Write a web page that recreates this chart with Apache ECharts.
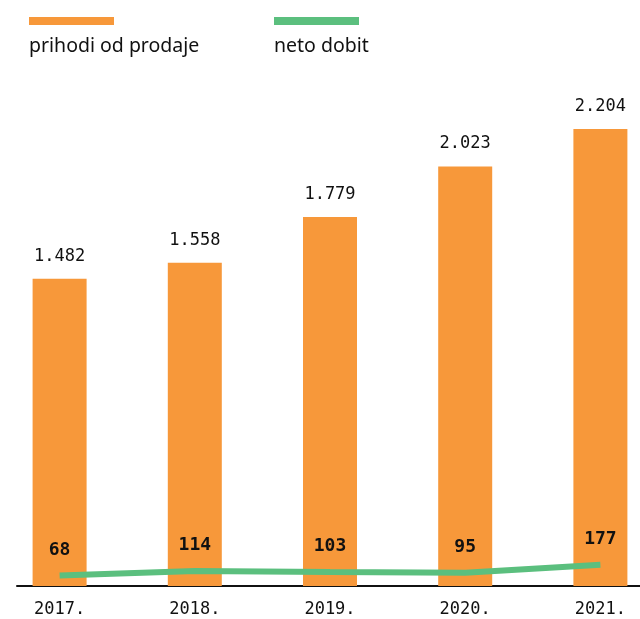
<!DOCTYPE html>
<html>
<head>
<meta charset="utf-8">
<script src="https://cdn.jsdelivr.net/npm/echarts@6/dist/echarts.min.js"></script>
<style>
  html, body { margin: 0; padding: 0; background: #fff; }
  #myChart { width: 640px; height: 619px; }
</style>
</head>
<body>
<div id="myChart"></div>
<script>
// data
const years = ['2017.', '2018.', '2019.', '2020.', '2021.']
const prihodi = [1482, 1558, 1779, 2023, 2204]
const netoDobit = [68, 114, 103, 95, 177]
const legendNames = ['prihodi od prodaje', 'neto dobit']

const orange = '#f7983a'
const green = '#5bbf7e'
const numFont = 'DejaVu Sans Mono'

// 1.482 style
function fmt(v) {
  return v >= 1000 ? Math.floor(v / 1000) + '.' + String(v % 1000).padStart(3, '0') : String(v)
}

let option = {
  animation: false,
  backgroundColor: '#fff',
  grid: [
    { left: -8, width: 676, top: 67.5, bottom: 33, outerBoundsMode: 'none' },
    // only for the baseline
    { left: 17, right: 0, top: 67.5, bottom: 33, outerBoundsMode: 'none' }
  ],
  xAxis: [{
    type: 'category',
    gridIndex: 0,
    data: years,
    axisLine: { show: false },
    axisTick: { show: false },
    axisLabel: {
      margin: 15,
      color: '#111',
      fontFamily: numFont,
      fontSize: 17
    }
  }, {
    type: 'value',
    gridIndex: 1,
    min: 0,
    max: 1,
    splitLine: { show: false },
    axisTick: { show: false },
    axisLabel: { show: false },
    axisLine: { lineStyle: { color: '#111', width: 2 } }
  }],
  yAxis: [{
    type: 'value',
    gridIndex: 0,
    min: 0,
    max: 2500,
    show: false
  }, {
    type: 'value',
    gridIndex: 0,
    min: -40,
    max: 5250,
    show: false
  }, {
    type: 'value',
    gridIndex: 1,
    show: false
  }],
  graphic: [
    { type: 'rect', left: 29, top: 17, shape: { width: 85, height: 8 }, style: { fill: orange } },
    { type: 'text', left: 29, top: 36, style: { text: legendNames[0], font: '19.5px "Noto Sans"', fill: '#111' } },
    { type: 'rect', left: 274, top: 17, shape: { width: 85, height: 8 }, style: { fill: green } },
    { type: 'text', left: 274, top: 36, style: { text: legendNames[1], font: '19.5px "Noto Sans"', fill: '#111' } }
  ],
  series: [
    {
      name: legendNames[0],
      type: 'bar',
      xAxisIndex: 0,
      yAxisIndex: 0,
      barWidth: 54,
      color: orange,
      data: prihodi,
      label: {
        show: true,
        position: 'top',
        distance: 14,
        color: '#111',
        fontFamily: numFont,
        fontSize: 17,
        formatter: p => fmt(p.value)
      }
    },
    {
      name: legendNames[1],
      type: 'line',
      xAxisIndex: 0,
      yAxisIndex: 1,
      data: netoDobit,
      symbol: 'circle',
      symbolSize: 1,
      showSymbol: true,
      itemStyle: { color: 'rgba(0,0,0,0)' },
      z: 5,
      lineStyle: { color: green, width: 6 },
      label: {
        show: true,
        position: 'top',
        distance: 16,
        color: '#111',
        fontFamily: numFont,
        fontWeight: 'bold',
        fontSize: 18
      }
    }
  ]
}

let myChart = echarts.init(document.getElementById('myChart'))
myChart.setOption(option)
</script>
</body>
</html>
